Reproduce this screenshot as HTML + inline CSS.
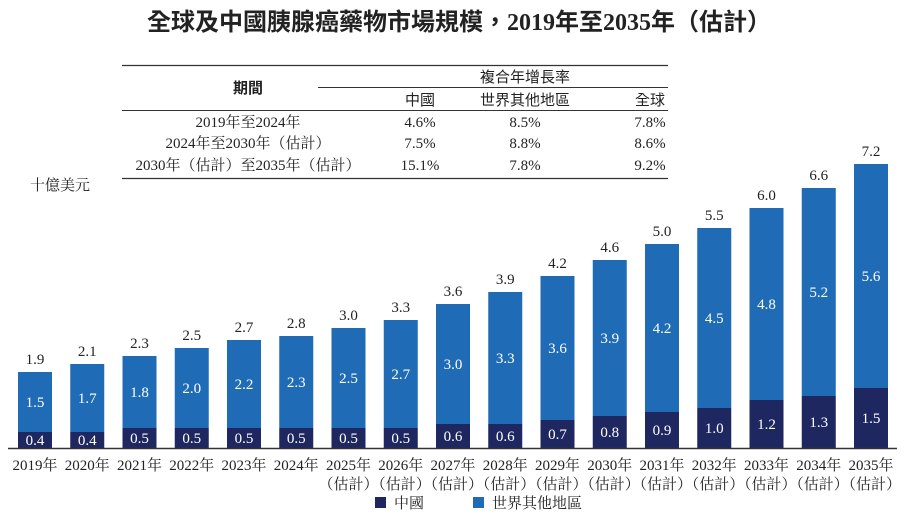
<!DOCTYPE html>
<html><head><meta charset="utf-8"><style>
body{margin:0;background:#fff;}
svg text{font-family:"Liberation Serif","Noto Serif CJK SC","Noto Sans CJK TC",serif;}
.cjk{font-family:"Noto Sans CJK TC","Liberation Sans",sans-serif !important;}
</style></head><body>
<svg id="c" width="915" height="525" viewBox="0 0 915 525">
<text class="cjk" x="459" y="30" text-anchor="middle" font-size="24" font-weight="bold" fill="#222">全球及中國胰腺癌藥物市場規模，<tspan font-family="Liberation Serif">2019</tspan>年至<tspan font-family="Liberation Serif">2035</tspan>年（估計）</text>
<g font-size="15" fill="#222">
<line x1="122" y1="65.5" x2="668" y2="65.5" stroke="#333" stroke-width="1.2"/>
<line x1="318" y1="87.5" x2="668" y2="87.5" stroke="#333" stroke-width="1"/>
<line x1="122" y1="110.5" x2="668" y2="110.5" stroke="#333" stroke-width="1"/>
<line x1="122" y1="178.5" x2="668" y2="178.5" stroke="#333" stroke-width="1.2"/>
<text class="cjk" x="248" y="93" text-anchor="middle" font-weight="bold">期間</text>
<text class="cjk" x="525" y="82" text-anchor="middle">複合年增長率</text>
<text class="cjk" x="420" y="105" text-anchor="middle">中國</text>
<text class="cjk" x="525" y="105" text-anchor="middle">世界其他地區</text>
<text class="cjk" x="650" y="105" text-anchor="middle">全球</text>
<g id="rows"></g>
</g>
<text x="30" y="190" font-size="15" fill="#222">十億美元</text>
<g id="bars"></g>
<line x1="8" y1="448.5" x2="897" y2="448.5" stroke="#333" stroke-width="1.5"/>
<g font-size="15" fill="#222">
<rect x="375" y="497" width="11" height="11" fill="#1f2760"/>
<text x="394" y="508">中國</text>
<rect x="473" y="497" width="11" height="11" fill="#1f6bb6"/>
<text x="492" y="508">世界其他地區</text>
</g>
</svg>
<script>
const years=["2019","2020","2021","2022","2023","2024","2025","2026","2027","2028","2029","2030","2031","2032","2033","2034","2035"];
const estimated=[0,0,0,0,0,0,1,1,1,1,1,1,1,1,1,1,1];
const china=[0.4,0.4,0.5,0.5,0.5,0.5,0.5,0.5,0.6,0.6,0.7,0.8,0.9,1.0,1.2,1.3,1.5];
const rest=[1.5,1.7,1.8,2.0,2.2,2.3,2.5,2.7,3.0,3.3,3.6,3.9,4.2,4.5,4.8,5.2,5.6];
const totals=[1.9,2.1,2.3,2.5,2.7,2.8,3.0,3.3,3.6,3.9,4.2,4.6,5.0,5.5,6.0,6.6,7.2];
const periods=["2019年至2024年","2024年至2030年（估計）","2030年（估計）至2035年（估計）"];
const cagrChina=["4.6%","7.5%","15.1%"];
const cagrRest=["8.5%","8.8%","7.8%"];
const cagrGlobal=["7.8%","8.6%","9.2%"];

const NS="http://www.w3.org/2000/svg";
const base=448, scale=40, x0=35, pitch=52.25, bw=34;
const y=v=>base-v*scale;
const xc=i=>x0+i*pitch;
function mk(tag,attrs,parent,txt){const e=document.createElementNS(NS,tag);for(const k in attrs)e.setAttribute(k,attrs[k]);if(txt!==undefined)e.textContent=txt;parent.appendChild(e);return e;}
const rows=document.getElementById('rows');
const ry=[127,148,170];
periods.forEach((p,i)=>{
 let t=mk('text',{x:248,y:ry[i],'text-anchor':'middle'},rows,p);
 
 
 t=mk('text',{x:420,y:ry[i],'text-anchor':'middle'},rows,cagrChina[i]);
 
 
 t=mk('text',{x:525,y:ry[i],'text-anchor':'middle'},rows,cagrRest[i]);
 
 
 t=mk('text',{x:650,y:ry[i],'text-anchor':'middle'},rows,cagrGlobal[i]);
 
 
});
const g=document.getElementById('bars');
years.forEach((yr,i)=>{
 const cx=xc(i);
 let r=mk('rect',{x:cx-bw/2,y:y(china[i]),width:bw,height:base-y(china[i]),fill:'#1f2760'},g);
 
 
 const top=china[i]+rest[i];
 r=mk('rect',{x:cx-bw/2,y:y(top),width:bw,height:y(china[i])-y(top),fill:'#1f6bb6'},g);
 
 
 let t=mk('text',{x:cx,y:(base+y(china[i]))/2+5,'text-anchor':'middle','font-size':15,fill:'#fff'},g,china[i].toFixed(1));
 
 
 t=mk('text',{x:cx,y:(y(china[i])+y(top))/2+5,'text-anchor':'middle','font-size':15,fill:'#fff'},g,rest[i].toFixed(1));
 
 
 t=mk('text',{x:cx,y:y(top)-8,'text-anchor':'middle','font-size':15,fill:'#222'},g,totals[i].toFixed(1));
 
 
 t=mk('text',{x:cx,y:470,'text-anchor':'middle','font-size':15,fill:'#222'},g,yr+'年');
 
 
 if(estimated[i]){
  t=mk('text',{x:cx,y:489,'text-anchor':'middle','font-size':15,fill:'#222'},g,'（估計）');
  
  
 }
});
</script>
</body></html>
